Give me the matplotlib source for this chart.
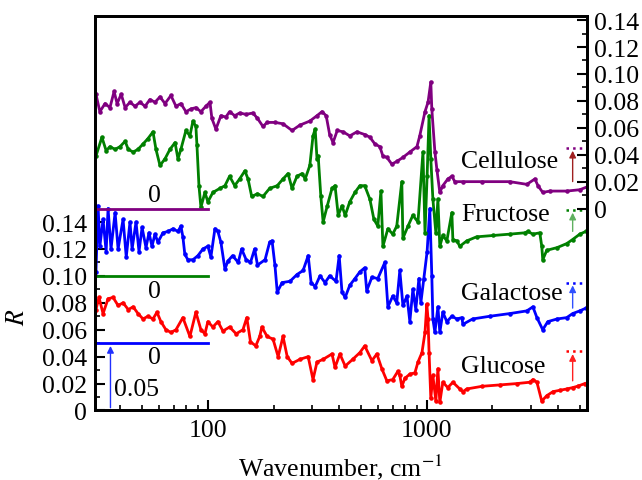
import numpy as np
import matplotlib
matplotlib.use('Agg')
import matplotlib.pyplot as plt
from matplotlib.ticker import FixedLocator, NullFormatter

plt.rcParams['font.family'] = ['Liberation Serif', 'DejaVu Serif']
plt.rcParams['mathtext.fontset'] = 'stix'
plt.rcParams['font.size'] = 18.5

# --- data (wavenumber in cm^-1, R without offset) ---
glucose_wn = [30.9, 31.9, 33.3, 35.1, 37.0, 39.0, 41.1, 43.4, 45.7, 48.1, 50.7, 53.4,
              56.3, 58.7, 61.2, 64.5, 68.0, 71.7, 77.1, 83.0, 88.4, 93.2, 97.2, 100.3,
              105.7, 111.4, 117.5, 126, 135, 145, 151, 157, 166, 173, 177, 187, 199, 210,
              221, 231, 243, 264, 288, 303, 316, 337, 370, 382, 402, 425, 460, 496, 522,
              563, 593, 625, 659, 701, 739, 755, 771, 797, 839, 885, 914, 953, 984, 1003,
              1016, 1027, 1046, 1069, 1103, 1127, 1150, 1187, 1251, 1319, 1419, 1466,
              1527, 1798, 2161, 2585, 2963, 3061, 3193, 3360, 3541, 3781, 4062, 4370,
              4647, 4895, 5281]
glucose_r = [0.075, 0.084, 0.072, 0.083, 0.084, 0.078, 0.080, 0.075, 0.077, 0.072, 0.068,
             0.070, 0.068, 0.073, 0.066, 0.060, 0.058, 0.060, 0.069, 0.055, 0.073, 0.060,
             0.057, 0.066, 0.062, 0.066, 0.059, 0.062, 0.057, 0.060, 0.069, 0.051, 0.048,
             0.055, 0.062, 0.055, 0.053, 0.040, 0.055, 0.040, 0.035, 0.038, 0.040, 0.023,
             0.036, 0.038, 0.042, 0.032, 0.042, 0.033, 0.038, 0.043, 0.048, 0.037, 0.042,
             0.031, 0.022, 0.023, 0.029, 0.026, 0.018, 0.024, 0.027, 0.028, 0.036, 0.043,
             0.058, 0.079, 0.068, 0.043, 0.009, 0.026, 0.007, 0.031, 0.006, 0.021, 0.017,
             0.021, 0.016, 0.014, 0.016, 0.018, 0.019, 0.020, 0.021, 0.023, 0.021, 0.007,
             0.011, 0.014, 0.015, 0.016, 0.017, 0.018, 0.020]

galactose_wn = [30.9, 31.6, 32.2, 33.3, 34.4, 35.1, 36.2, 37.8, 39.0, 41.1, 42.5, 44.2,
                45.2, 47.1, 48.6, 50.2, 52.3, 54.0, 55.7, 57.5, 59.3, 62.5, 65.9, 69.5,
                73.2, 75.5, 77.1, 78.7, 81.3, 85.7, 90.3, 95.2, 100.3, 103.5, 108.0, 111.4,
                115.0, 120.0, 123.8, 130, 138, 143, 150, 157, 164, 169, 183, 192, 197, 203,
                208, 219, 238, 256, 273, 288, 297, 310, 326, 344, 361, 386, 399, 411, 425,
                446, 471, 496, 522, 533, 563, 599, 645, 666, 701, 731, 755, 780, 814, 839,
                866, 893, 923, 942, 972, 1006, 1035, 1057, 1069, 1092, 1127, 1150, 1187,
                1238, 1305, 1376, 1450, 1466, 1623, 1945, 2400, 2872, 3061, 3193, 3395,
                3579, 3948, 4370, 4647, 5012, 5340]
galactose_r = [0.053, 0.102, 0.072, 0.092, 0.068, 0.100, 0.070, 0.097, 0.070, 0.092, 0.064,
               0.090, 0.070, 0.090, 0.068, 0.086, 0.071, 0.082, 0.072, 0.081, 0.075, 0.082,
               0.083, 0.085, 0.083, 0.087, 0.079, 0.066, 0.062, 0.062, 0.065, 0.070, 0.072,
               0.064, 0.085, 0.083, 0.075, 0.055, 0.061, 0.065, 0.060, 0.070, 0.062, 0.060,
               0.070, 0.058, 0.062, 0.075, 0.076, 0.058, 0.038, 0.045, 0.046, 0.051, 0.054,
               0.065, 0.045, 0.042, 0.050, 0.045, 0.050, 0.046, 0.065, 0.038, 0.034, 0.043,
               0.048, 0.053, 0.056, 0.039, 0.049, 0.048, 0.060, 0.027, 0.035, 0.030, 0.054,
               0.028, 0.035, 0.016, 0.040, 0.025, 0.048, 0.030, 0.048, 0.068, 0.100, 0.050,
               0.018, 0.008, 0.027, 0.008, 0.023, 0.016, 0.020, 0.018, 0.019, 0.014, 0.018,
               0.020, 0.022, 0.024, 0.027, 0.019, 0.010, 0.016, 0.018, 0.019, 0.022, 0.024,
               0.026]

fructose_wn = [30.9, 32.9, 34.4, 35.8, 37.8, 39.8, 42.0, 43.4, 45.7, 48.1, 50.7, 53.4,
               56.3, 58.1, 60.6, 63.9, 67.3, 71.0, 73.2, 75.5, 79.6, 83.0, 85.7, 88.4, 89.4,
               91.3, 93.2, 97.2, 100.3, 105.7, 113.8, 120.0, 126, 133, 140, 148, 153, 159,
               169, 179, 192, 208, 221, 233, 243, 256, 270, 279, 293, 303, 310, 316, 320,
               329, 337, 352, 370, 382, 395, 411, 425, 446, 471, 496, 522, 551, 575, 599,
               619, 632, 666, 701, 731, 771, 780, 823, 866, 914, 963, 984, 1006, 1027, 1046,
               1069, 1103, 1127, 1150, 1187, 1238, 1305, 1319, 1376, 1419, 1527, 1692, 2010,
               2400, 2811, 2902, 3061, 3291, 3360, 3395, 3541, 3948, 4370, 4647, 5012, 5340]
fructose_r = [0.089, 0.103, 0.093, 0.096, 0.094, 0.096, 0.100, 0.094, 0.092, 0.094, 0.098,
              0.102, 0.107, 0.094, 0.082, 0.087, 0.094, 0.099, 0.087, 0.094, 0.108, 0.104,
              0.115, 0.111, 0.097, 0.067, 0.051, 0.062, 0.055, 0.062, 0.065, 0.067, 0.074,
              0.067, 0.072, 0.078, 0.072, 0.059, 0.061, 0.059, 0.065, 0.067, 0.072, 0.076,
              0.065, 0.074, 0.076, 0.072, 0.082, 0.104, 0.109, 0.087, 0.089, 0.059, 0.040,
              0.052, 0.065, 0.067, 0.045, 0.052, 0.045, 0.055, 0.062, 0.067, 0.067, 0.057,
              0.042, 0.037, 0.063, 0.022, 0.035, 0.031, 0.037, 0.070, 0.028, 0.037, 0.045,
              0.040, 0.092, 0.032, 0.074, 0.119, 0.087, 0.057, 0.032, 0.057, 0.022, 0.030,
              0.026, 0.047, 0.027, 0.026, 0.022, 0.026, 0.029, 0.030, 0.031, 0.032, 0.033,
              0.031, 0.032, 0.022, 0.012, 0.019, 0.021, 0.024, 0.027, 0.031, 0.033]

cellulose_wn = [30.9, 32.2, 34.0, 35.8, 37.4, 38.6, 40.3, 42.0, 44.2, 46.6, 49.1, 51.8,
                54.5, 57.5, 60.6, 63.9, 68.0, 71.7, 75.5, 79.6, 83.9, 88.4, 93.2, 98.2,
                102.5, 104.6, 109.1, 115.0, 121.2, 126, 133, 140, 150, 161, 169, 179, 187,
                203, 221, 243, 264, 293, 316, 333, 348, 361, 374, 391, 416, 446, 481, 522,
                551, 581, 612, 632, 659, 694, 731, 780, 839, 904, 931, 984, 1016, 1046, 1057,
                1092, 1115, 1150, 1187, 1251, 1305, 1347, 1466, 1798, 2400, 2872, 3126, 3228,
                3395, 3656, 4370, 5012, 5395]
cellulose_r = [0.085, 0.072, 0.078, 0.075, 0.087, 0.078, 0.085, 0.075, 0.079, 0.076, 0.079,
               0.076, 0.081, 0.079, 0.083, 0.078, 0.084, 0.076, 0.078, 0.072, 0.074, 0.075,
               0.072, 0.076, 0.079, 0.067, 0.059, 0.069, 0.068, 0.072, 0.069, 0.071, 0.070,
               0.071, 0.067, 0.061, 0.064, 0.064, 0.063, 0.058, 0.062, 0.065, 0.069, 0.072,
               0.069, 0.055, 0.049, 0.058, 0.057, 0.054, 0.057, 0.055, 0.053, 0.048, 0.046,
               0.039, 0.038, 0.033, 0.035, 0.038, 0.042, 0.046, 0.054, 0.072, 0.079, 0.094,
               0.074, 0.042, 0.029, 0.012, 0.017, 0.022, 0.024, 0.020, 0.020, 0.020, 0.020,
               0.018, 0.022, 0.017, 0.012, 0.013, 0.013, 0.014, 0.016]

names = ['Glucose', 'Galactose', 'Fructose', 'Cellulose']
offsets = [0.0, 0.05, 0.10, 0.15]
colors = ['#ff0000', '#0000ff', '#008000', '#800080']
arrow_colors = ['#ff2020', '#3050ff', '#60b060', '#a02020']
arrow_base = [0.020, 0.024, 0.031, 0.018]
arrow_top = [0.044, 0.045, 0.049, 0.045]
label_y = [0.033, 0.037, 0.046, 0.035]
zero_colors = ['#0000ff', '#008000', '#800080']
zero_text_dy = [-0.010, -0.011, 0.010]

series = [(glucose_wn, glucose_r), (galactose_wn, galactose_r),
          (fructose_wn, fructose_r), (cellulose_wn, cellulose_r)]

fig = plt.figure(figsize=(6.42, 4.81), dpi=100)
ax = fig.add_axes([0.148, 0.1445, 0.766, 0.820])
ax.set_xscale('log')
xmin, xmax = 30.6, 5395
ax.set_xlim(xmin, xmax)
ax.set_ylim(0, 0.293)

for (wn, r), off, c in zip(series, offsets, colors):
    ax.plot(wn, np.array(r) + off, '.-', color=c, lw=2.0, ms=4.5)

# zero lines of the shifted curves
for off, c, dy in zip(offsets[1:], zero_colors, zero_text_dy):
    ax.plot([xmin, 100], [off, off], color=c, lw=2)
    ax.text(57, off + dy, '0', ha='center', va='center')

# scale arrow for the shift
ax.annotate('', xy=(36, 0.05), xytext=(36, 0.0),
            arrowprops=dict(arrowstyle='-|>', color='#2030ff', lw=1, mutation_scale=10))
ax.text(37.5, 0.016, '0.05', ha='left', va='center')

# right-hand markers and names
for name, off, c, ac, b, t, ly in zip(names, offsets, colors, arrow_colors,
                                      arrow_base, arrow_top, label_y):
    ax.plot([4330, xmax], [off + t, off + t], ':', color=c, lw=1.8)
    ax.annotate('', xy=(4650, off + t), xytext=(4650, off + b),
                arrowprops=dict(arrowstyle='-|>', color=ac, lw=1, mutation_scale=10))
    ax.text(1434, off + ly, name, ha='left', va='center')

for s in ax.spines.values():
    s.set_linewidth(2)

ax.set_yticks(np.arange(0, 0.141, 0.02))
ax.set_yticklabels(['0', '0.02', '0.04', '0.06', '0.08', '0.10', '0.12', '0.14'])
ax.yaxis.set_minor_locator(FixedLocator(np.arange(0.01, 0.14, 0.02)))
ax.set_xticks([100, 1000])
ax.set_xticklabels(['100', '1000'])
ax.xaxis.set_minor_locator(FixedLocator([40, 50, 60, 70, 80, 90, 200, 300, 400, 500, 600,
                                         700, 800, 900, 2000, 3000, 4000, 5000]))
ax.xaxis.set_minor_formatter(NullFormatter())
ax.tick_params(which='major', direction='in', length=7, width=1.5, pad=6)
ax.tick_params(which='minor', direction='in', length=3.5, width=1.2)
ax.tick_params(axis='y', right=False)
ax.tick_params(axis='x', top=False, which='both')

ax.set_xlabel('Wavenumber, cm$^{-1}$', labelpad=8)
ax.set_ylabel('$R$')
ax.yaxis.set_label_coords(-0.135, 0.07 / 0.293)

ax2 = ax.twinx()
ax2.set_ylim(-0.15, 0.293 - 0.15)
ax2.set_yticks(np.arange(0, 0.141, 0.02))
ax2.set_yticklabels(['0', '0.02', '0.04', '0.06', '0.08', '0.10', '0.12', '0.14'])
ax2.yaxis.set_minor_locator(FixedLocator(np.arange(0.01, 0.14, 0.02)))
ax2.tick_params(which='major', direction='in', length=7, width=1.5, pad=5)
ax2.tick_params(which='minor', direction='in', length=3.5, width=1.2)
for s in ax2.spines.values():
    s.set_linewidth(2)

fig.savefig('out.png', dpi=100)
